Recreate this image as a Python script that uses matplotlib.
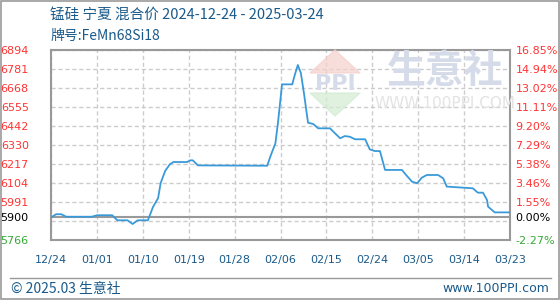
import matplotlib
matplotlib.use("Agg")
import matplotlib.pyplot as plt
from matplotlib.patches import Rectangle, Polygon
from matplotlib.lines import Line2D

plt.rcParams['font.family'] = ['Noto Sans CJK SC', 'DejaVu Sans']

# price series (day offset from 12/24, yuan/ton)
days = [0, 1, 2, 3, 8, 9, 12, 13, 15, 16, 17, 19, 20, 21, 21.5, 22.4, 23.3, 24,
        26.7, 27.3, 27.8, 28.8, 42.4, 43, 44, 44.5, 45.3, 47.3, 47.8, 48.4, 49,
        49.6, 50.4, 51.4, 52.4, 54.7, 55.7, 56.7, 57.6, 58.6, 59.6, 61.6, 62.5,
        63.5, 64.5, 65.5, 68.8, 69.8, 70.8, 71.8, 72.7, 73.7, 75.9, 76.9, 77.6,
        82.7, 83.7, 84.7, 85.5, 85.7, 87, 90]
prices = [5900, 5919, 5919, 5904, 5904, 5913, 5913, 5883, 5883, 5861, 5883, 5883,
          5962, 6015, 6104, 6177, 6215, 6229, 6229, 6239, 6239, 6209, 6207, 6261,
          6340, 6461, 6690, 6690, 6746, 6805, 6756, 6637, 6462, 6455, 6429, 6429,
          6399, 6370, 6383, 6379, 6364, 6364, 6304, 6294, 6294, 6182, 6182, 6146,
          6112, 6103, 6136, 6152, 6152, 6132, 6083, 6073, 6047, 6047, 6003, 5964,
          5930, 5930]

base_price = 5900
x_ticks = [0, 9, 18, 27, 36, 45, 54, 63, 72, 81, 90]
x_labels = ["12/24", "01/01", "01/10", "01/19", "01/28", "02/06", "02/15",
            "02/24", "03/05", "03/14", "03/23"]
y_grid = [5766, 5878.8, 5991.6, 6104.4, 6217.2, 6330, 6442.8, 6555.6, 6668.4,
          6781.2, 6894]
y_ticks = [5766, 5900, 5991.6, 6104.4, 6217.2, 6330, 6442.8, 6555.6, 6668.4,
           6781.2, 6894]
y_labels = ["5766", "5900", "5991", "6104", "6217", "6330", "6442", "6555",
            "6668", "6781", "6894"]
pct_labels = ["-2.27%", "0.00%", "1.55%", "3.46%", "5.38%", "7.29%", "9.20%",
              "11.11%", "13.02%", "14.94%", "16.85%"]

RED = "#ff3333"
GREEN = "#33aa33"
BLUE_TXT = "#1a5a8a"
AXIS = "#999999"

fig = plt.figure(figsize=(5.6, 3.0), dpi=100)
ax = fig.add_axes([51 / 560, 60 / 300, 459 / 560, 190 / 300])

ax.set_xlim(0, 90)
ax.set_ylim(5766, 6894)

# dashed grid
for g in y_grid:
    ax.axhline(g, color="#cccccc", lw=1, ls=(0, (3, 2)), zorder=1)
for t in x_ticks:
    ax.axvline(t, color="#cccccc", lw=1, ls=(0, (3, 2)), zorder=1)
ax.axhline(base_price, color=AXIS, lw=1.5, zorder=2)

ax.plot(days, prices, color="#3a9ad9", lw=1.3, zorder=3)

for s in ax.spines.values():
    s.set_color(AXIS)
    s.set_linewidth(1.5)

ax.set_xticks(x_ticks)
ax.set_xticklabels(x_labels, fontsize=8, color=BLUE_TXT, family="DejaVu Sans")
ax.tick_params(axis="x", length=0, pad=11)

ax.set_yticks(y_ticks)
ax.set_yticklabels(y_labels, fontsize=8, family="DejaVu Sans")
ax.tick_params(axis="y", length=0, pad=16)
for lbl, v in zip(ax.get_yticklabels(), y_ticks):
    lbl.set_color(GREEN if v < base_price else ("black" if v == base_price else RED))

ax2 = ax.twinx()
ax2.set_ylim(ax.get_ylim())
ax2.set_yticks(y_ticks)
ax2.set_yticklabels(pct_labels, fontsize=8, family="DejaVu Sans")
ax2.tick_params(axis="y", length=0, pad=4)
for lbl, v in zip(ax2.get_yticklabels(), y_ticks):
    lbl.set_color(GREEN if v < base_price else ("black" if v == base_price else RED))
for s in ax2.spines.values():
    s.set_visible(False)

# watermark logo
fig.patches.append(Polygon([[310 / 560, 1 - 73 / 300], [335 / 560, 1 - 50 / 300],
                            [360 / 560, 1 - 73 / 300]], closed=True,
                           transform=fig.transFigure, color="#f5d0cc", alpha=0.7, zorder=0.5))
fig.patches.append(Polygon([[310 / 560, 1 - 93 / 300], [335 / 560, 1 - 116 / 300],
                            [360 / 560, 1 - 93 / 300]], closed=True,
                           transform=fig.transFigure, color="#d3ecd3", alpha=0.7, zorder=0.5))
fig.text(335 / 560, 1 - 84 / 300, "PPI", ha="center", va="center", fontsize=16,
         color="#d5dbe8", weight="bold", family="DejaVu Sans", zorder=0.6)
fig.text(445 / 560, 1 - 72 / 300, "生意社", ha="center", va="center", fontsize=28,
         color="#d5dbe8", weight="bold", zorder=0.6)
fig.text(445 / 560, 1 - 104 / 300, "WWW.100PPI.COM", ha="center", va="center",
         fontsize=11, color="#e3e3e3", family="DejaVu Sans", zorder=0.6)

# titles
fig.text(50 / 560, 1 - 15 / 300, "锰硅 宁夏 混合价 2024-12-24 - 2025-03-24",
         fontsize=10.5, color=BLUE_TXT, va="center")
fig.text(50 / 560, 1 - 36 / 300, "牌号:FeMn68Si18", fontsize=10, color=BLUE_TXT,
         va="center")

# footer
fig.add_artist(Line2D([10 / 560, 551 / 560], [1 - 277.5 / 300, 1 - 277.5 / 300],
                      transform=fig.transFigure, color=AXIS, lw=1))
fig.text(11 / 560, 1 - 289 / 300, "© 2025.03 生意社", fontsize=10, color=BLUE_TXT,
         va="center")
fig.text(549 / 560, 1 - 289 / 300, "www.100PPI.com", fontsize=9, color=BLUE_TXT,
         va="center", ha="right", family="DejaVu Sans")

# outer frame
fig.patches.append(Rectangle((0.001, 0.002), 0.997, 0.995, transform=fig.transFigure,
                             fill=False, edgecolor="#999999", lw=1.2))

fig.savefig("out.png", dpi=100)
